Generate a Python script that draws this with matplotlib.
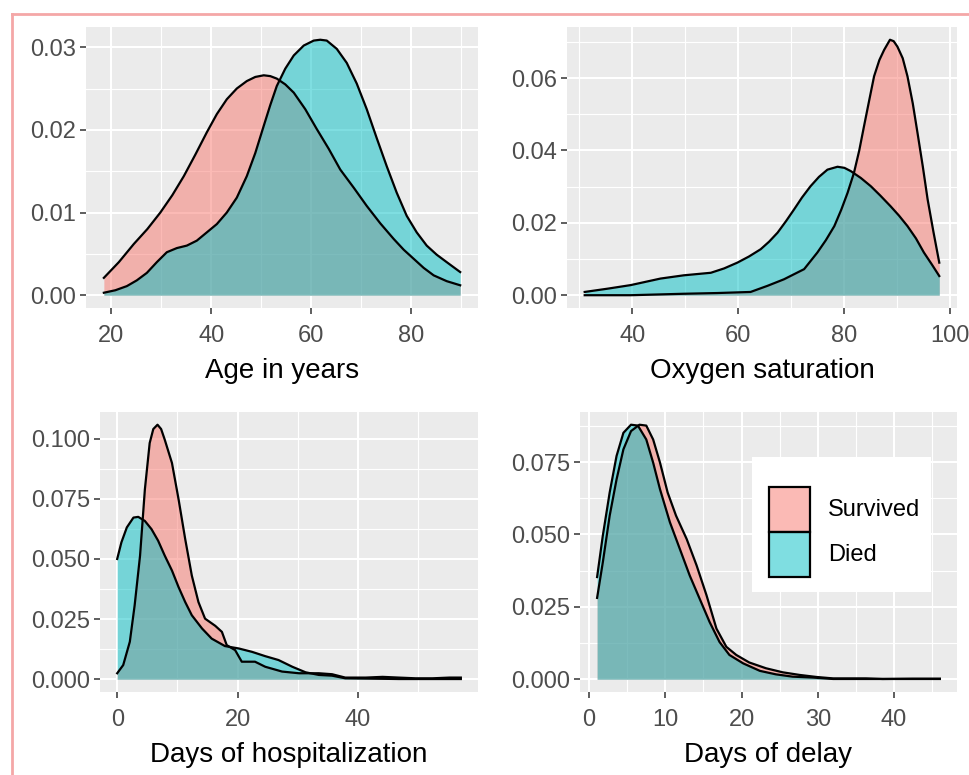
import matplotlib
matplotlib.use("Agg")
from matplotlib import pyplot as plt
from matplotlib.patches import Rectangle
from matplotlib.lines import Line2D
from matplotlib.colors import to_rgba
from matplotlib.ticker import FormatStrFormatter

plt.rcParams['font.family'] = ['Liberation Sans', 'DejaVu Sans']

groups = ["Survived", "Died"]
colors = ["#F8766D", "#00BFC4"]

# density curves (x, density)
age_x_surv = [18.5, 21.5, 24.5, 27.2, 29.8, 32.2, 34.5, 36.8, 39.1, 41.1, 43.1, 45.1, 47.1, 48.8, 50.5, 51.8, 53.1, 54.8, 56.5, 58.8, 61.1, 63.5, 65.8, 68.5, 71.1, 73.8, 76.5, 78.5, 80.5, 82.5, 84.5, 87.1, 89.8]
age_y_surv = [0.0021, 0.0040, 0.0062, 0.0080, 0.0100, 0.0121, 0.0144, 0.0170, 0.0197, 0.0219, 0.0237, 0.0250, 0.0259, 0.0264, 0.0266, 0.0265, 0.0262, 0.0255, 0.0245, 0.0225, 0.0201, 0.0177, 0.0152, 0.0130, 0.0108, 0.0087, 0.0068, 0.0055, 0.0044, 0.0033, 0.0024, 0.0017, 0.0012]
age_x_died = [18.5, 20.8, 23.1, 25.1, 27.1, 29.1, 31.1, 33.1, 35.1, 37.1, 39.1, 41.1, 43.1, 45.1, 47.1, 48.8, 50.5, 51.8, 53.1, 54.8, 56.5, 58.5, 60.5, 61.8, 63.1, 65.1, 67.1, 69.1, 71.1, 73.1, 75.1, 77.1, 79.1, 81.1, 83.1, 85.1, 87.1, 89.8]
age_y_died = [0.0003, 0.0006, 0.0011, 0.0018, 0.0027, 0.0040, 0.0052, 0.0057, 0.0060, 0.0066, 0.0076, 0.0086, 0.0100, 0.0118, 0.0144, 0.0172, 0.0205, 0.0230, 0.0253, 0.0274, 0.0290, 0.0302, 0.0308, 0.0309, 0.0308, 0.0298, 0.0281, 0.0256, 0.0225, 0.0190, 0.0156, 0.0124, 0.0096, 0.0076, 0.0060, 0.0049, 0.0040, 0.0028]

oxy_x_surv = [31.0, 39.7, 49.7, 56.0, 62.3, 65.5, 68.6, 70.5, 72.4, 74.9, 76.5, 78.1, 79.4, 80.6, 81.8, 82.8, 83.7, 84.7, 85.6, 86.6, 87.5, 88.6, 89.3, 90.0, 91.0, 91.9, 92.9, 93.8, 94.8, 95.7, 96.8, 97.9]
oxy_y_surv = [0.0000, 0.0000, 0.0004, 0.0006, 0.0009, 0.0026, 0.0044, 0.0058, 0.0072, 0.0118, 0.0152, 0.0191, 0.0236, 0.0283, 0.0338, 0.0400, 0.0467, 0.0540, 0.0605, 0.0650, 0.0678, 0.0706, 0.0702, 0.0687, 0.0655, 0.0605, 0.0530, 0.0448, 0.0355, 0.0265, 0.0175, 0.0090]
oxy_x_died = [31.0, 35.3, 39.7, 45.3, 49.7, 54.8, 57.3, 59.8, 62.0, 64.2, 65.8, 67.4, 69.0, 70.5, 72.0, 73.6, 75.2, 76.8, 78.7, 80.0, 81.2, 83.1, 85.0, 86.8, 88.7, 90.3, 91.9, 93.5, 95.0, 96.5, 97.9]
oxy_y_died = [0.0009, 0.0018, 0.0028, 0.0046, 0.0055, 0.0062, 0.0074, 0.0090, 0.0107, 0.0127, 0.0148, 0.0173, 0.0205, 0.0237, 0.0270, 0.0301, 0.0327, 0.0347, 0.0355, 0.0352, 0.0343, 0.0324, 0.0301, 0.0275, 0.0246, 0.0220, 0.0191, 0.0157, 0.0118, 0.0085, 0.0053]

hosp_x_surv = [0.0, 1.0, 2.1, 2.9, 3.8, 4.6, 5.4, 6.0, 6.7, 7.3, 7.9, 9.1, 10.2, 11.3, 12.4, 13.5, 14.6, 16.3, 17.4, 18.2, 19.6, 20.7, 22.9, 24.6, 27.4, 30.2, 33.5, 35.7, 37.9, 41.3, 44.1, 46.8, 49.6, 52.4, 55.2, 57.1]
hosp_y_surv = [0.0025, 0.0059, 0.0156, 0.0307, 0.0514, 0.0789, 0.0982, 0.1040, 0.1058, 0.1040, 0.0996, 0.0899, 0.0748, 0.0583, 0.0431, 0.0321, 0.0252, 0.0222, 0.0197, 0.0142, 0.0121, 0.0073, 0.0073, 0.0052, 0.0032, 0.0025, 0.0025, 0.0021, 0.0007, 0.0007, 0.0010, 0.0007, 0.0004, 0.0004, 0.0007, 0.0007]
hosp_x_died = [0.0, 0.7, 1.6, 2.7, 3.5, 4.6, 5.7, 6.8, 7.9, 9.1, 10.2, 11.3, 12.4, 14.1, 15.7, 17.9, 20.2, 22.4, 24.6, 26.8, 29.1, 31.3, 33.5, 35.7, 37.9, 41.3, 46.8, 57.1]
hosp_y_died = [0.0500, 0.0569, 0.0631, 0.0672, 0.0675, 0.0658, 0.0624, 0.0576, 0.0514, 0.0452, 0.0383, 0.0321, 0.0266, 0.0211, 0.0169, 0.0138, 0.0128, 0.0114, 0.0096, 0.0080, 0.0052, 0.0029, 0.0018, 0.0015, 0.0004, 0.0003, 0.0001, 0.0001]

delay_x_surv = [1.05, 1.8, 2.7, 3.6, 4.5, 5.5, 6.6, 7.5, 8.4, 9.3, 10.3, 11.4, 12.8, 14.1, 15.4, 16.7, 18.0, 19.3, 21.0, 23.2, 25.4, 27.6, 29.8, 32.0, 34.1, 36.3, 38.5, 42.4, 46.0]
delay_y_surv = [0.0281, 0.0404, 0.0565, 0.0690, 0.0794, 0.0857, 0.0879, 0.0876, 0.0828, 0.0748, 0.0645, 0.0565, 0.0484, 0.0393, 0.0290, 0.0175, 0.0112, 0.0084, 0.0058, 0.0038, 0.0024, 0.0015, 0.0008, 0.0003, 0.0003, 0.0003, 0.0001, 0.0002, 0.0002]
delay_x_died = [1.05, 1.8, 2.7, 3.6, 4.5, 5.5, 6.4, 7.5, 8.4, 9.3, 10.6, 11.9, 13.2, 14.5, 15.8, 17.1, 18.4, 20.2, 22.4, 24.5, 26.7, 29.3, 32.0, 46.0]
delay_y_died = [0.0353, 0.0496, 0.0645, 0.0771, 0.0851, 0.0879, 0.0876, 0.0828, 0.0748, 0.0656, 0.0542, 0.0450, 0.0358, 0.0278, 0.0198, 0.0129, 0.0084, 0.0055, 0.0029, 0.0017, 0.0009, 0.0006, 0.0001, 0.0001]

panels = [
    # position (l, b, w, h), curves, x title, xticks, minor xticks, yticks, minor yticks, y format
    ((0.0887, 0.6026, 0.4041, 0.3626), [(age_x_surv, age_y_surv), (age_x_died, age_y_died)],
     "Age in years", [20, 40, 60, 80], [30, 50, 70, 90], [0, 0.01, 0.02, 0.03], [0.005, 0.015, 0.025], '%.2f'),
    ((0.5845, 0.6026, 0.4021, 0.3626), [(oxy_x_surv, oxy_y_surv), (oxy_x_died, oxy_y_died)],
     "Oxygen saturation", [40, 60, 80, 100], [30, 50, 70, 90], [0, 0.02, 0.04, 0.06], [0.01, 0.03, 0.05, 0.07], '%.2f'),
    ((0.1031, 0.1071, 0.3897, 0.3613), [(hosp_x_surv, hosp_y_surv), (hosp_x_died, hosp_y_died)],
     "Days of hospitalization", [0, 20, 40], [10, 30, 50], [0, 0.025, 0.05, 0.075, 0.1], [0.0125, 0.0375, 0.0625, 0.0875], '%.3f'),
    ((0.5979, 0.1071, 0.3887, 0.3613), [(delay_x_surv, delay_y_surv), (delay_x_died, delay_y_died)],
     "Days of delay", [0, 10, 20, 30, 40], [5, 15, 25, 35, 45], [0, 0.025, 0.05, 0.075], [0.0125, 0.0375, 0.0625, 0.0875], '%.3f'),
]

fig = plt.figure(figsize=(9.7, 7.75), dpi=100)

for pos, curves, xlabel, xt, xmt, yt, ymt, yfmt in panels:
    ax = fig.add_axes(pos)
    ax.set_facecolor('#EBEBEB')
    for (x, y), c in zip(curves, colors):
        ax.fill_between(x, y, 0, color=c, alpha=0.5, lw=0)
        ax.plot(x, y, color='black', lw=1.6)
    ax.set_xticks(xt)
    ax.set_xticks(xmt, minor=True)
    ax.set_yticks(yt)
    ax.set_yticks(ymt, minor=True)
    ax.yaxis.set_major_formatter(FormatStrFormatter(yfmt))
    ax.margins(x=0.05, y=0.05)
    ax.grid(which='major', color='white', lw=1.5)
    ax.grid(which='minor', color='white', lw=0.8)
    ax.set_axisbelow(True)
    for s in ax.spines.values():
        s.set_visible(False)
    ax.tick_params(which='major', length=4, width=1.1, color='#333333',
                   labelsize=17, labelcolor='#4D4D4D', pad=3)
    ax.tick_params(axis='x', which='major', pad=8)
    ax.tick_params(which='minor', length=0)
    ax.set_xlabel(xlabel, fontsize=20, color='black', labelpad=8)

# legend box inside the last panel (drawn by hand like ggplot's key squares)
ax.add_patch(Rectangle((0.456, 0.357), 0.475, 0.482, transform=ax.transAxes,
                       facecolor='white', edgecolor='none', zorder=5))
key_y = [0.571, 0.411]
for g, c, ky in zip(groups, colors, key_y):
    ax.add_patch(Rectangle((0.501, ky), 0.108, 0.161, transform=ax.transAxes,
                           facecolor=to_rgba(c, 0.5), edgecolor='black', lw=1.6, zorder=6))
    ax.text(0.657, ky + 0.08, g, transform=ax.transAxes, fontsize=17,
            va='center', ha='left', color='black', zorder=7)

# pink border of the screenshot
fig.add_artist(Line2D([12 / 970, 12 / 970], [0, 1 - 14 / 775], transform=fig.transFigure,
                      color='#F4A7A7', lw=2))
fig.add_artist(Line2D([12 / 970, 1], [1 - 14 / 775, 1 - 14 / 775], transform=fig.transFigure,
                      color='#F4A7A7', lw=2))

plt.savefig('out.png', dpi=100)
plt.close()
